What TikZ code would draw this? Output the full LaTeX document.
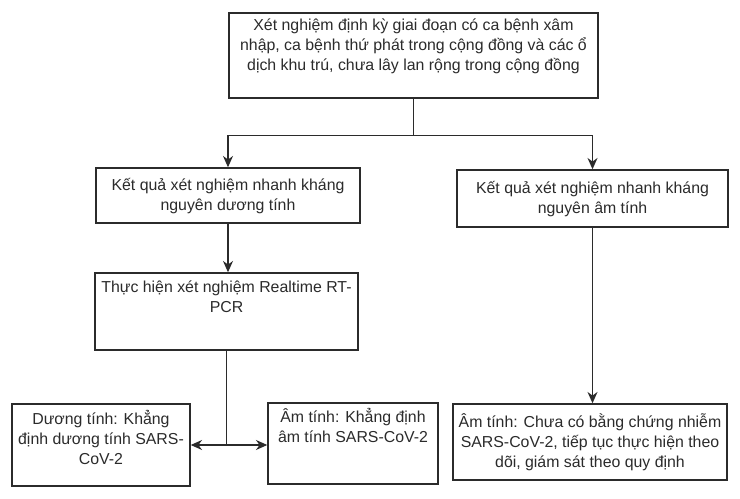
\documentclass[tikz,border=0pt]{standalone}
\usepackage{fontspec}
\setmainfont{Liberation Sans}
\usetikzlibrary{arrows.meta, positioning}
\definecolor{LineGrey}{HTML}{2B2B2B}
% box text: #1 inner position (t or c), #2 width, #3 height (in px), #4 text
\newcommand{\boxtext}[4]{\parbox[c][#3\dimexpr0.75pt\relax][#1]{#2\dimexpr0.75pt\relax}{\centering #4}}

\begin{document}
\begin{tikzpicture}[
  x=0.75pt, y=-0.75pt,
  box/.style={rectangle, draw=LineGrey, line width=1.1pt, inner sep=0pt,
              text=LineGrey, font=\fontsize{11.9}{15}\selectfont},
  arr/.style={draw=LineGrey, line width=1pt, -{Stealth[length=8.5pt, width=7.5pt]}},
  link/.style={draw=LineGrey, line width=1pt},
]
\useasboundingbox[fill=white] (0,0) rectangle (740,499);

% boxes, placed at the centres measured on the page
\node[box] (screen) at (413.5,55.5) {\boxtext{t}{369}{85}{\vspace*{3pt}\strut
  Xét nghiệm định kỳ giai đoạn có ca bệnh xâm\\
  nhập, ca bệnh thứ phát trong cộng đồng và các ổ\\
  dịch khu trú, chưa lây lan rộng trong cộng đồng}};
\node[box] (rapidpos) at (228,195.5) {\boxtext{c}{264}{55}{\strut
  Kết quả xét nghiệm nhanh kháng\\ nguyên dương tính}};
\node[box] (rapidneg) at (592.5,198.5) {\boxtext{c}{271}{57}{\strut
  Kết quả xét nghiệm nhanh kháng\\ nguyên âm tính}};
\node[box] (pcr) at (226.5,311.5) {\boxtext{t}{263}{77}{\vspace*{4pt}\strut
  Thực hiện xét nghiệm Realtime RT-\\ PCR}};
\node[box] (pcrpos) at (101,445) {\boxtext{t}{178}{82}{\vspace*{5pt}\strut
  Dương tính: Khẳng\\ định dương tính SARS-\\ CoV-2}};
\node[box] (pcrneg) at (353,443.5) {\boxtext{t}{170}{81}{\vspace*{4pt}\strut
  Âm tính: Khẳng định\\ âm tính SARS-CoV-2}};
\node[box] (watch) at (590,442) {\boxtext{c}{274}{76}{\strut
  Âm tính: Chưa có bằng chứng nhiễm\\
  SARS-CoV-2, tiếp tục thực hiện theo\\
  dõi, giám sát theo quy định}};

% connectors
\coordinate (split) at ([yshift=-37*0.75pt]screen.south);
\draw[link] (screen.south) -- (split);
\foreach \dst in {rapidpos, rapidneg}
  \draw[arr] (split) -| (\dst.north);
\draw[arr] (rapidpos.south) -- (rapidpos.south |- pcr.north);
\coordinate (fork) at (pcr.south |- pcrpos.east);
\draw[link] (pcr.south) -- (fork);
\draw[arr] (fork) -- (pcrpos.east);
\draw[arr] (fork) -- (fork -| pcrneg.west);
\draw[arr] (rapidneg.south) -- (rapidneg.south |- watch.north);
\end{tikzpicture}
\end{document}
